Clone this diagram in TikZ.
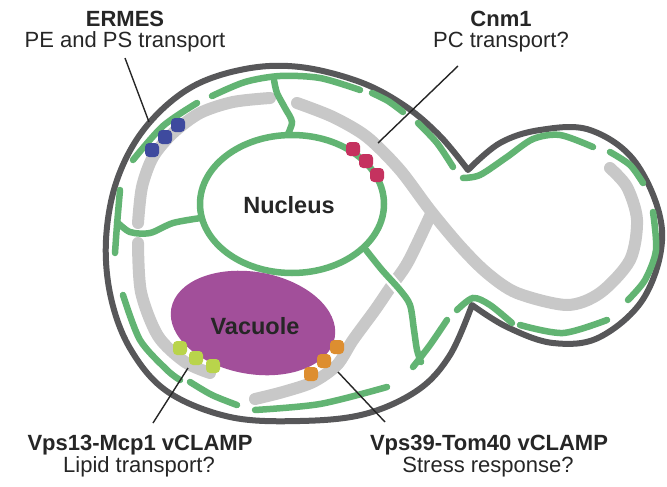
\documentclass[tikz,border=0pt]{standalone}
\usepackage{fontspec}
\setmainfont{Liberation Sans}
\definecolor{cellgray}{HTML}{575759}
\definecolor{ergreen}{HTML}{62B473}
\definecolor{mitogray}{HTML}{C8C8C8}
\definecolor{vacpurple}{HTML}{A24F9A}
\definecolor{dotblue}{HTML}{3E4A9E}
\definecolor{dotred}{HTML}{C5325F}
\definecolor{dotlime}{HTML}{B9D44B}
\definecolor{dotorange}{HTML}{DD8E30}
\definecolor{txt}{HTML}{262626}
\begin{document}
\begin{tikzpicture}[x=1pt,y=-1pt,
  cellwall/.style={draw=cellgray,line width=6pt,line join=round},
  er/.style={draw=ergreen,line width=6.5pt,line cap=round},
  mito/.style={draw=mitogray,line width=12pt,line cap=round},
  leader/.style={draw=txt,line width=1.4pt},
  lbl/.style={font=\fontsize{22}{24}\selectfont,text=txt,anchor=base,inner sep=0pt},
  lblb/.style={font=\fontsize{22}{24}\selectfont\bfseries,text=txt,anchor=base,inner sep=0pt},
  organelle/.style={font=\fontsize{23.5}{26}\selectfont\bfseries,text=txt,anchor=base,inner sep=0pt},
  contact/.style={minimum width=14pt,minimum height=14pt,inner sep=0pt,rounded corners=4pt},
]
\useasboundingbox[fill=white] (0,0) rectangle (667,487);

% cell outline
\draw[cellwall] plot[smooth,tension=0.6] coordinates {(468,170) (440,136) (405,106) (360,82) (300,67) (245,69) (190,88) (145,128) (117,180) (106,240) (111,298) (131,350) (168,392) (230,417) (300,421) (365,414) (418,390) (450,355) (472,305)}
  -- plot[smooth,tension=0.6] coordinates {(472,305) (507,327) (553,343) (600,337) (645,296) (662,230) (636,163) (590,130) (540,130) (500,143) (468,170)} -- cycle;

% cortical ER
\draw[er] plot[smooth] coordinates {(133,160) (163,126) (197,103)};
\draw[er] plot[smooth] coordinates {(212,96) (245,82) (280,76) (320,78) (360,90)};
\draw[er] plot[smooth] coordinates {(372,93) (388,101) (403,112)};
\draw[er] plot[smooth] coordinates {(418,123) (437,143) (453,167)};
\draw[er] plot[smooth] coordinates {(463,178) (480,175) (507,157) (533,139) (560,135) (593,147)};
\draw[er] plot[smooth] coordinates {(610,152) (630,165) (643,183)};
\draw[er] plot[smooth] coordinates {(653,212) (656,250) (645,280) (628,300)};
\draw[er] plot[smooth] coordinates {(607,320) (563,333) (520,325)};
\draw[er] plot[smooth] coordinates {(512,323) (490,305) (473,298) (457,310)};
\draw[er] plot[smooth] coordinates {(447,320) (430,345) (413,367)};
\draw[er] plot[smooth] coordinates {(387,387) (320,404) (255,410)};
\draw[er] plot[smooth] coordinates {(237,405) (212,395) (190,382)};
\draw[er] plot[smooth] coordinates {(123,295) (140,340) (167,370) (180,380)};
\draw[er] plot[smooth] coordinates {(120,190) (117,225) (115,253)};

% mitochondria
\draw[mito] plot[smooth] coordinates {(270,98) (233,102) (200,113) (173,133) (153,157) (142,187) (138,223)};
\draw[mito] plot[smooth] coordinates {(138,243) (141,292) (158,336) (185,362) (210,373)};
\draw[mito] plot[smooth] coordinates {(297,103) (333,117) (367,137) (400,170) (430,210) (460,246) (487,273) (517,293) (567,305) (600,293) (630,260) (637,220) (627,187) (610,168)};
\draw[mito] plot[smooth] coordinates {(431,214) (408,262) (390,288) (375,310) (353,340) (337,365) (313,382) (283,392) (255,399)};

% ER tubules
\draw[er] plot[smooth] coordinates {(287,136) (292,122) (285,108) (277,93) (274,80)};
\draw[er] plot[smooth] coordinates {(201,218) (173,223) (150,233) (130,232) (117,222)};
\draw[white,line width=11pt] (385,273) -- (401,292);
\draw[er] plot[smooth] coordinates {(366,250) (382,270) (400,290) (410,305) (414,330) (417,350) (421,362)};

% nucleus
\draw[er,fill=white] (292,204) ellipse [x radius=92, y radius=69];
\node[organelle] (nucleus) at (289,213) {Nucleus};

% vacuole
\fill[vacpurple, rotate around={-10:(253,323)}] (253,323) ellipse [x radius=83, y radius=51];
\node[organelle] (vacuole) at (255,334) {Vacuole};

% contact sites
\node[contact,fill=dotblue] (b1) at (152,150) {};
\node[contact,fill=dotblue] (b2) at (165,137) {};
\node[contact,fill=dotblue] (b3) at (178,125) {};
\node[contact,fill=dotred] (r1) at (353,149) {};
\node[contact,fill=dotred] (r2) at (366,161) {};
\node[contact,fill=dotred] (r3) at (377,175) {};
\node[contact,fill=dotlime] (l1) at (180,348) {};
\node[contact,fill=dotlime] (l2) at (196,358) {};
\node[contact,fill=dotlime] (l3) at (213,366) {};
\node[contact,fill=dotorange] (o1) at (337,347) {};
\node[contact,fill=dotorange] (o2) at (324,361) {};
\node[contact,fill=dotorange] (o3) at (311,374) {};

% labels
\node[lblb] (ermesT) at (125,27) {ERMES};
\node[lbl] (ermesD) at (125,48) {PE and PS transport};
\node[lblb] (cnmT) at (501,27) {Cnm1};
\node[lbl] (cnmD) at (501,48) {PC transport?};
\node[lblb] (vpsaT) at (140,450) {Vps13-Mcp1 vCLAMP};
\node[lbl] (vpsaD) at (139,472) {Lipid transport?};
\node[lblb] (vpsbT) at (489,450) {Vps39-Tom40 vCLAMP};
\node[lbl] (vpsbD) at (488,472) {Stress response?};

% leader lines
\coordinate (ermesA) at (125,58);
\coordinate (ermesB) at (149,122);
\coordinate (cnmA) at (458,66);
\coordinate (cnmB) at (378,143);
\coordinate (vpsaA) at (153,423);
\coordinate (vpsaB) at (188,368);
\coordinate (vpsbA) at (385,422);
\coordinate (vpsbB) at (338,372);
\draw[leader] (ermesA) -- (ermesB);
\draw[leader] (cnmA) -- (cnmB);
\draw[leader] (vpsaA) -- (vpsaB);
\draw[leader] (vpsbA) -- (vpsbB);
\end{tikzpicture}
\end{document}
